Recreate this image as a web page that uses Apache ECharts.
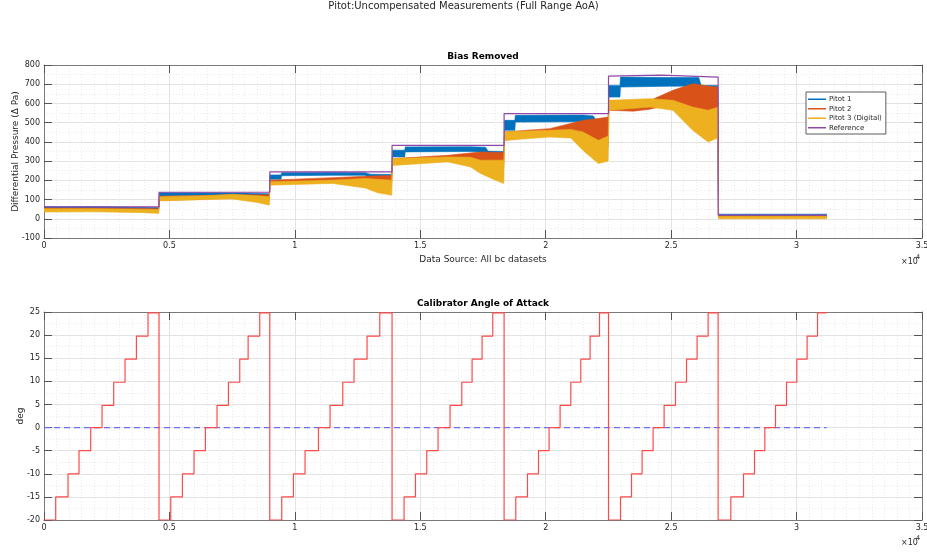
<!DOCTYPE html>
<html>
<head>
<meta charset="utf-8">
<script src="https://cdn.jsdelivr.net/npm/echarts@6/dist/echarts.min.js"></script>
<style>html,body{margin:0;padding:0;background:#fff;}#c{width:927px;height:553px;}</style>
</head>
<body>
<div id="c"></div>
<script>
// ---------------- DATA ----------------
const legendNames = ['Pitot 1', 'Pitot 2', 'Pitot 3 (Digital)', 'Reference'];

// Pitot 1 noise envelope (x, low, high)
const p1X  = [0, 2000, 4000, 4570, 4600, 6500, 8000, 8980, 9010, 9450, 9470, 11500, 12800, 13000, 13860, 13890, 14380, 14400, 17000, 17600, 17700, 18330, 18360, 18770, 18790, 21500, 21900, 22000, 22490, 22520, 22960, 22980, 25000, 26100, 26200, 26860, 26890, 31195];
const p1Lo = [52, 53, 50, 48, 118, 122, 120, 115, 205, 205, 224, 226, 226, 210, 205, 322, 322, 348, 350, 345, 322, 322, 460, 460, 503, 505, 500, 460, 460, 633, 633, 685, 690, 690, 625, 625, 13, 13];
const p1Hi = [62, 63, 60, 58, 135, 136, 134, 130, 228, 228, 240, 242, 240, 232, 230, 357, 357, 374, 375, 372, 352, 350, 512, 512, 538, 540, 535, 512, 512, 694, 694, 737, 735, 735, 694, 694, 24, 24];

// Pitot 2 noise envelope
const p2X  = [0, 2000, 4000, 4570, 4600, 6000, 7500, 8500, 8980, 9010, 11500, 13000, 13860, 13890, 16100, 17400, 18330, 18360, 20150, 21500, 22000, 22490, 22520, 23500, 24150, 25070, 25860, 26500, 26860, 26890, 31195];
const p2Lo = [42, 44, 40, 38, 95, 100, 108, 100, 95, 184, 200, 180, 170, 288, 305, 288, 280, 408, 434, 417, 400, 374, 564, 560, 570, 599, 564, 500, 477, 6, 6];
const p2Hi = [56, 56, 54, 52, 118, 120, 125, 125, 125, 201, 214, 222, 225, 313, 330, 348, 345, 452, 469, 512, 520, 529, 616, 600, 615, 668, 703, 690, 685, 16, 16];

// Pitot 3 (Digital) noise envelope
const p3X  = [0, 2000, 4000, 4570, 4600, 6500, 7500, 8500, 8980, 9010, 11500, 12800, 13300, 13860, 13890, 16100, 17000, 17400, 18000, 18330, 18360, 20150, 21000, 21480, 22100, 22490, 22520, 24150, 25070, 25860, 26470, 26860, 26890, 31195];
const p3Lo = [35, 36, 32, 28, 93, 100, 103, 85, 71, 175, 184, 160, 135, 123, 277, 296, 270, 236, 200, 184, 408, 425, 420, 356, 287, 300, 564, 581, 564, 460, 400, 420, 0, 0];
const p3Hi = [52, 52, 50, 48, 114, 120, 127, 120, 114, 192, 201, 210, 205, 201, 313, 322, 320, 305, 305, 305, 452, 460, 465, 452, 408, 430, 616, 625, 616, 581, 564, 580, 13, 13];

// Reference pressure
const refX = [0, 4585, 4585, 9000, 9000, 13875, 13875, 18341, 18341, 22503, 22503, 24600, 26873, 26873, 31195];
const refY = [62, 62, 138, 138, 244, 244, 382, 382, 547, 547, 742, 747, 737, 19, 19];

// Calibrator angle of attack: start of each step and its level
const aoaStepX = [
  0, 466, 958, 1396, 1862, 2314, 2779, 3230, 3684, 4147,
  4585, 5052, 5518, 5981, 6434, 6897, 7352, 7803, 8137, 8600,
  9000, 9477, 9943, 10406, 10940, 11403, 11910, 12360, 12878, 13385,
  13875, 14353, 14808, 15258, 15709, 16187, 16654, 17065, 17463, 17890,
  18341, 18807, 19273, 19712, 20134, 20573, 21000, 21398, 21769, 22144,
  22503, 22981, 23420, 23842, 24281, 24720, 25174, 25613, 26035, 26474,
  26873, 27379, 27885, 28324, 28735, 29160, 29600, 30010, 30420, 30835,
  31195];
const aoaLevel = [
  -20, -15, -10, -5, 0, 4.8, 9.8, 14.8, 19.8, 24.8,
  -20, -15, -10, -5, 0, 4.8, 9.8, 14.8, 19.8, 24.8,
  -20, -15, -10, -5, 0, 4.8, 9.8, 14.8, 19.8, 24.8,
  -20, -15, -10, -5, 0, 4.8, 9.8, 14.8, 19.8, 24.8,
  -20, -15, -10, -5, 0, 4.8, 9.8, 14.8, 19.8, 24.8,
  -20, -15, -10, -5, 0, 4.8, 9.8, 14.8, 19.8, 24.8,
  -20, -15, -10, -5, 0, 4.8, 9.8, 14.8, 19.8, 24.8,
  24.8];
const zeroLineX = [0, 31195];
const zeroLineY = [0, 0];

// ---------------- CHART ----------------
const FONT = 'DejaVu Sans';
const TXT = '#262626';
const AX = '#7a7a7a';
const chart = echarts.init(document.getElementById('c'), null, {renderer: 'canvas'});

function xFmt(v) { return v === 0 ? '0' : String(v / 10000); }

function mainX(grid, showName) {
  return {
    type: 'value', gridIndex: grid, min: 0, max: 35000, interval: 5000, position: 'bottom',
    axisLine: {show: true, onZero: false, lineStyle: {color: AX, width: 1}},
    axisTick: {show: true, inside: true, length: 8, lineStyle: {color: '#555'}},
    axisLabel: {formatter: xFmt, color: TXT, fontFamily: FONT, fontSize: 8, margin: 4},
    splitLine: {show: true, lineStyle: {color: '#e3e3e3', width: 1}},
    minorTick: {show: false, splitNumber: 10},
    minorSplitLine: {show: true, lineStyle: {color: '#ebebeb', type: [1, 2], width: 1}},
    name: showName ? 'Data Source: All bc datasets' : '',
    nameLocation: 'middle', nameGap: 17, nameMoveOverlap: false,
    nameTextStyle: {color: TXT, fontFamily: FONT, fontSize: 9}
  };
}
function topX(grid) {
  return {
    type: 'value', gridIndex: grid, min: 0, max: 35000, interval: 5000, position: 'top',
    axisLine: {show: true, onZero: false, lineStyle: {color: AX, width: 1}},
    axisTick: {show: true, inside: true, length: 8, lineStyle: {color: '#555'}},
    axisLabel: {show: false}, splitLine: {show: false}
  };
}
function mainY(grid, min, max, interval, name, gap) {
  return {
    type: 'value', gridIndex: grid, min: min, max: max, interval: interval, position: 'left',
    axisLine: {show: true, onZero: false, lineStyle: {color: AX, width: 1}},
    axisTick: {show: true, inside: true, length: 8, lineStyle: {color: '#555'}},
    axisLabel: {color: TXT, fontFamily: FONT, fontSize: 8, margin: 4},
    splitLine: {show: true, lineStyle: {color: '#e3e3e3', width: 1}},
    minorTick: {show: false, splitNumber: 2},
    minorSplitLine: {show: true, lineStyle: {color: '#ebebeb', type: [1, 2], width: 1}},
    name: name, nameLocation: 'middle', nameGap: gap, nameMoveOverlap: false,
    nameTextStyle: {color: TXT, fontFamily: FONT, fontSize: 9}
  };
}
function rightY(grid, min, max, interval) {
  return {
    type: 'value', gridIndex: grid, min: min, max: max, interval: interval, position: 'right',
    axisLine: {show: true, onZero: false, lineStyle: {color: AX, width: 1}},
    axisTick: {show: true, inside: true, length: 8, lineStyle: {color: '#555'}},
    axisLabel: {show: false}, splitLine: {show: false}
  };
}

function band(name, color, xs, lo, hi, z) {
  return {
    type: 'custom', name: name, xAxisIndex: 0, yAxisIndex: 0, z: z,
    clip: true,
    itemStyle: {color: color},
    data: xs.map(function (x, i) { return [x, lo[i], hi[i]]; }),
    encode: {x: 0, y: [1, 2]},
    renderItem: function (params, api) {
      if (params.dataIndex !== 0) return null;
      const top = [], bot = [];
      for (let i = 0; i < xs.length; i++) {
        top.push(api.coord([xs[i], hi[i]]));
        bot.push(api.coord([xs[i], lo[i]]));
      }
      bot.reverse();
      return {
        type: 'polygon',
        shape: {points: top.concat(bot)},
        style: {fill: color, stroke: color, lineWidth: 0.6}
      };
    }
  };
}

const option = {
  animation: false,
  backgroundColor: '#ffffff',
  textStyle: {fontFamily: FONT},
  grid: [
    {left: 44, right: 5, top: 65, height: 173, outerBoundsMode: 'none', containLabel: false},
    {left: 44, right: 5, top: 312, height: 208, outerBoundsMode: 'none', containLabel: false}
  ],
  xAxis: [mainX(0, true), topX(0), mainX(1, false), topX(1)],
  yAxis: [
    mainY(0, -100, 800, 100, 'Differential Pressure (\u0394 Pa)', 24),
    rightY(0, -100, 800, 100),
    mainY(1, -20, 25, 5, 'deg', 19),
    rightY(1, -20, 25, 5)
  ],
  legend: {
    left: 806, top: 92, orient: 'vertical',
    backgroundColor: '#fff', borderColor: '#333', borderWidth: 0.8,
    padding: [3, 4, 2, 2], itemGap: 1, itemWidth: 18, itemHeight: 1.5,
    textStyle: {color: TXT, fontFamily: FONT, fontSize: 7, lineHeight: 8.5, padding: [0, 0, 0, -2]},
    data: legendNames.map(function (n) { return {name: n, icon: 'rect'}; })
  },
  graphic: [
    {type: 'text', left: 'center', top: 1, style: {text: 'Pitot:Uncompensated Measurements (Full Range AoA)', fill: TXT, font: '10px "DejaVu Sans"'}},
    {type: 'text', x: 483, y: 57, style: {text: 'Bias Removed', fill: '#000', font: 'bold 9px "DejaVu Sans"', align: 'center', verticalAlign: 'middle'}},
    {type: 'text', x: 483, y: 304, style: {text: 'Calibrator Angle of Attack', fill: '#000', font: 'bold 9px "DejaVu Sans"', align: 'center', verticalAlign: 'middle'}},
    {type: 'text', x: 901, y: 262, style: {text: '\u00d710', fill: TXT, font: '8px "DejaVu Sans"', verticalAlign: 'middle'}},
    {type: 'text', x: 916, y: 257, style: {text: '4', fill: TXT, font: '6.5px "DejaVu Sans"', verticalAlign: 'middle'}},
    {type: 'text', x: 901, y: 543, style: {text: '\u00d710', fill: TXT, font: '8px "DejaVu Sans"', verticalAlign: 'middle'}},
    {type: 'text', x: 916, y: 538, style: {text: '4', fill: TXT, font: '6.5px "DejaVu Sans"', verticalAlign: 'middle'}}
  ],
  series: [
    band('Pitot 1', '#0072BD', p1X, p1Lo, p1Hi, 2),
    band('Pitot 2', '#D95319', p2X, p2Lo, p2Hi, 3),
    band('Pitot 3 (Digital)', '#EDB120', p3X, p3Lo, p3Hi, 4),
    {
      type: 'line', name: 'Reference', xAxisIndex: 0, yAxisIndex: 0, z: 5,
      data: refX.map(function (x, i) { return [x, refY[i]]; }),
      showSymbol: false, symbol: 'none',
      lineStyle: {color: '#9146a8', width: 1.2}, itemStyle: {color: '#9146a8'}
    },
    {
      type: 'line', name: 'zero', xAxisIndex: 2, yAxisIndex: 2, z: 3,
      data: zeroLineX.map(function (x, i) { return [x, zeroLineY[i]]; }),
      symbol: 'none', lineStyle: {color: '#6c6cf0', width: 1.2, type: [6, 4]}
    },
    {
      type: 'line', name: 'AoA', xAxisIndex: 2, yAxisIndex: 2, z: 4, step: 'end',
      data: aoaStepX.map(function (x, i) { return [x, aoaLevel[i]]; }),
      symbol: 'none', lineStyle: {color: '#ff4a4a', width: 1.2}
    }
  ]
};
chart.setOption(option);
</script>
</body>
</html>
